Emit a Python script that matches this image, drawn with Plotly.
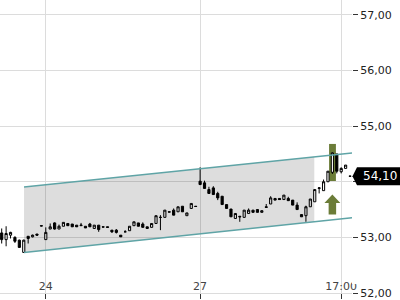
import plotly.graph_objects as go

# ---------------- data ----------------
opens = [53.08, 52.96, 53.04, 53.00, 52.95, 52.73, 53.02, 53.01, 53.06, 53.21,
         52.96, 53.15, 53.26, 53.15, 53.20, 53.25, 53.24, 53.22, 53.21, 53.20,
         53.24, 53.16, 53.22, 53.19, 53.19, 53.13, 53.13, 53.04, 53.10, 53.12,
         53.21, 53.26, 53.24, 53.19, 53.18, 53.25, 53.36, 53.36, 53.46, 53.49,
         53.46, 53.56, 53.39, 53.52, 53.56, 54.01, 53.98, 53.86, 53.89, 53.79,
         53.74, 53.59, 53.51, 53.34, 53.38, 53.36, 53.43, 53.49, 53.50, 53.45,
         53.55, 53.60, 53.70, 53.70, 53.68, 53.70, 53.67, 53.58, 53.41, 53.39,
         53.55, 53.64, 53.88, 53.84, 54.00, 54.17, 54.50, 54.18, 54.24, 54.10]
highs = [53.16, 53.20, 53.10, 53.02, 52.96, 52.96, 53.02, 53.05, 53.06, 53.21,
         53.18, 53.25, 53.27, 53.23, 53.27, 53.25, 53.24, 53.22, 53.26, 53.20,
         53.26, 53.22, 53.22, 53.19, 53.19, 53.13, 53.15, 53.04, 53.13, 53.20,
         53.28, 53.26, 53.27, 53.19, 53.25, 53.39, 53.40, 53.49, 53.46, 53.52,
         53.55, 53.56, 53.44, 53.61, 53.56, 54.26, 54.02, 53.91, 53.92, 53.82,
         53.74, 53.59, 53.51, 53.43, 53.38, 53.49, 53.52, 53.49, 53.50, 53.48,
         53.60, 53.74, 53.70, 53.70, 53.76, 53.73, 53.67, 53.63, 53.41, 53.57,
         53.69, 53.86, 53.90, 54.04, 54.19, 54.53, 54.50, 54.26, 54.30, 54.10]
lows = [52.89, 52.84, 52.98, 52.90, 52.81, 52.72, 52.89, 53.00, 53.03, 53.20,
        52.96, 53.15, 53.14, 53.15, 53.20, 53.21, 53.19, 53.19, 53.21, 53.17,
        53.19, 53.16, 53.10, 53.185, 53.18, 53.08, 53.07, 53.01, 53.10, 53.12,
        53.21, 53.20, 53.18, 53.16, 53.18, 53.25, 53.13, 53.36, 53.455, 53.40,
        53.46, 53.46, 53.39, 53.52, 53.555, 53.94, 53.88, 53.79, 53.77, 53.67,
        53.59, 53.52, 53.37, 53.34, 53.28, 53.36, 53.43, 53.45, 53.45, 53.45,
        53.54, 53.60, 53.67, 53.68, 53.68, 53.66, 53.58, 53.50, 53.37, 53.28,
        53.55, 53.64, 53.79, 53.84, 54.00, 54.14, 54.15, 54.15, 54.24, 54.10]
closes = [52.96, 53.07, 53.09, 52.93, 52.82, 52.95, 52.98, 53.04, 53.04, 53.205,
          53.09, 53.19, 53.15, 53.20, 53.27, 53.21, 53.19, 53.19, 53.22, 53.17,
          53.19, 53.22, 53.14, 53.185, 53.18, 53.10, 53.09, 53.01, 53.10, 53.20,
          53.28, 53.20, 53.18, 53.16, 53.25, 53.39, 53.36, 53.49, 53.455, 53.40,
          53.55, 53.46, 53.44, 53.61, 53.555, 53.95, 53.88, 53.79, 53.77, 53.71,
          53.59, 53.52, 53.37, 53.43, 53.37, 53.49, 53.49, 53.45, 53.45, 53.48,
          53.54, 53.71, 53.67, 53.68, 53.76, 53.66, 53.58, 53.50, 53.37, 53.55,
          53.69, 53.86, 53.89, 54.00, 54.19, 54.52, 54.19, 54.24, 54.30, 54.10]
bar_index = list(range(len(opens)))

tick_positions = [10, 45, 77]
tick_labels = ["24", "27", "17:00"]
price_ticks = [52, 53, 54, 55, 56, 57]
price_tick_labels = ["52,00", "53,00", "", "55,00", "56,00", "57,00"]

# trend channel (index, price)
channel_x = [5.06, 79.45]
channel_upper = [53.905, 54.518]
channel_lower = [52.727, 53.352]
channel_shade_end = 70.9

signal_index = 75
signal_bar = [54.0, 54.68]
last_price = 54.10
last_price_text = "54,10"

x_range = [-0.386, 79.45]
y_range = [52.0, 57.268]

# ---------------- figure ----------------
fig = go.Figure()

def interp(xa, ya, x):
    return ya[0] + (ya[1] - ya[0]) * (x - xa[0]) / (xa[1] - xa[0])

up_end = interp(channel_x, channel_upper, channel_shade_end)
lo_end = interp(channel_x, channel_lower, channel_shade_end)
fig.add_trace(go.Scatter(
    x=[channel_x[0], channel_x[0], channel_shade_end, channel_shade_end, channel_x[0]],
    y=[channel_lower[0], channel_upper[0], up_end, lo_end, channel_lower[0]],
    fill="toself", fillcolor="rgba(0,0,0,0.135)", mode="lines",
    line=dict(width=0), hoverinfo="skip", showlegend=False))

teal = "#5fa4a6"
fig.add_trace(go.Scatter(x=channel_x, y=channel_upper, mode="lines",
                         line=dict(color=teal, width=1.5), showlegend=False))
fig.add_trace(go.Scatter(x=channel_x, y=channel_lower, mode="lines",
                         line=dict(color=teal, width=1.5), showlegend=False))

fig.add_trace(go.Candlestick(
    x=bar_index, open=opens, high=highs, low=lows, close=closes,
    increasing=dict(line=dict(color="black", width=1), fillcolor="white"),
    decreasing=dict(line=dict(color="black", width=1), fillcolor="black"),
    whiskerwidth=0, showlegend=False))

olive = "#6b7c38"
# highlight bar behind the signal candle
fig.add_shape(type="rect", xref="x", yref="y", layer="below",
              x0=signal_index - 0.75, x1=signal_index + 0.8,
              y0=signal_bar[0], y1=signal_bar[1],
              fillcolor=olive, line=dict(width=0))

# up arrow under the signal
tip_y = 53.77
head_y = 53.62
base_y = 53.41
hw, sw = 1.8, 0.85
cx = signal_index
arrow_path = (f"M {cx},{tip_y} L {cx+hw},{head_y} L {cx+sw},{head_y} L {cx+sw},{base_y} "
              f"L {cx-sw},{base_y} L {cx-sw},{head_y} L {cx-hw},{head_y} Z")
fig.add_shape(type="path", path=arrow_path, xref="x", yref="y", layer="above",
              fillcolor=olive, line=dict(width=0))

# last price label
plot_w = 352.0
plot_h = 295.0
py = (last_price - y_range[0]) / (y_range[1] - y_range[0])
half_h = 9.0 / plot_h
tip_x = 1 + 0.5 / plot_w
box_x = 1 + 5.0 / plot_w
fig.add_shape(type="path", xref="paper", yref="paper", layer="above",
              path=f"M {tip_x},{py} L {box_x},{py+half_h} L 1.2,{py+half_h} L 1.2,{py-half_h} L {box_x},{py-half_h} Z",
              fillcolor="black", line=dict(width=0))
fig.add_annotation(xref="paper", yref="y", x=1 + 9.0 / plot_w, y=last_price,
                   text=last_price_text, showarrow=False, xanchor="left",
                   yanchor="middle",
                   font=dict(family="DejaVu Sans", size=12, color="white"))

# mask overflow of right-most x label past the plot edge
fig.add_shape(type="rect", xref="paper", yref="paper", layer="above",
              x0=1.0, x1=1 + 8.5 / plot_w, y0=9.0 / plot_h, y1=20.0 / plot_h,
              fillcolor="white", line=dict(width=0))

grid = "#dcdcdc"
fig.update_layout(
    width=400, height=300,
    margin=dict(l=0, r=48, t=0, b=5),
    paper_bgcolor="white", plot_bgcolor="white",
    separators=",.",
    font=dict(family="DejaVu Sans", size=11, color="#222"),
    showlegend=False,
    xaxis=dict(
        type="linear", range=x_range, rangeslider=dict(visible=False),
        tickmode="array", tickvals=tick_positions, ticktext=tick_labels,
        showgrid=True, gridcolor=grid, gridwidth=1, zeroline=False,
        ticks="outside", ticklen=5, tickcolor="#333",
        ticklabelposition="inside", ticklabeloverflow="allow",
        showline=True, linecolor=grid, linewidth=1,
    ),
    yaxis=dict(
        side="right", range=y_range, tickmode="array", tickvals=price_ticks,
        ticktext=price_tick_labels, showgrid=True, gridcolor=grid, gridwidth=1,
        zeroline=False, ticks="outside", ticklen=5, tickcolor="#333",
        showline=False, ticklabeloverflow="allow",
    ),
)

fig.write_html("out.html")
